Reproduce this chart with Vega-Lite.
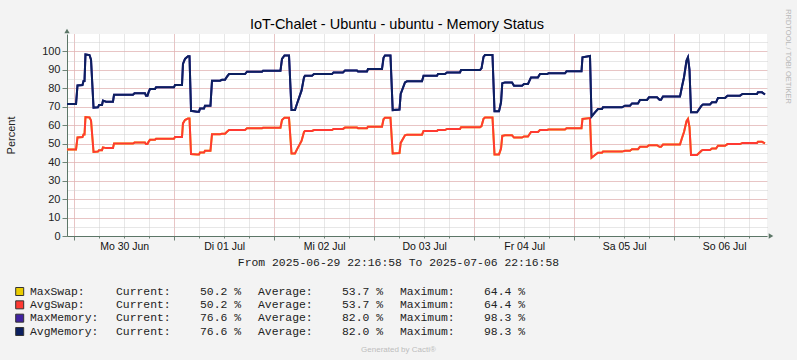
{
  "$schema": "https://vega.github.io/schema/vega-lite/v6.json",
  "width": 700,
  "height": 202,
  "autosize": "none",
  "padding": {"left": 67, "top": 34, "right": 30, "bottom": 124},
  "background": "#F3F3F3",
  "title": {"text": "IoT-Chalet - Ubuntu - ubuntu - Memory Status", "font": "Liberation Sans", "fontSize": 14.5, "fontWeight": "normal", "color": "#000000", "anchor": "middle", "frame": "group", "dx": -20, "dy": 32, "offset": 8},
  "config": {"view": {"fill": "#FFFFFF", "stroke": null}, "axis": {"labelFont": "Liberation Sans", "titleFont": "Liberation Sans", "titleFontWeight": "normal"}},
  "datasets": {
    "usage": [
        {"t": "2025-06-29T22:16:58", "Swap": 46.8, "Memory": 71.5},
        {"t": "2025-06-30T00:27", "Swap": 46.8, "Memory": 71.5},
        {"t": "2025-06-30T00:48", "Swap": 53.4, "Memory": 81.5},
        {"t": "2025-06-30T02:00", "Swap": 53.6, "Memory": 81.8},
        {"t": "2025-06-30T02:15", "Swap": 55.0, "Memory": 84.0},
        {"t": "2025-06-30T02:29", "Swap": 55.0, "Memory": 84.0},
        {"t": "2025-06-30T02:43", "Swap": 64.4, "Memory": 98.3},
        {"t": "2025-06-30T03:41", "Swap": 64.2, "Memory": 98.0},
        {"t": "2025-06-30T04:03", "Swap": 62.6, "Memory": 95.5},
        {"t": "2025-06-30T04:39", "Swap": 45.5, "Memory": 69.5},
        {"t": "2025-06-30T05:43", "Swap": 45.7, "Memory": 69.7},
        {"t": "2025-06-30T05:58", "Swap": 46.5, "Memory": 71.0},
        {"t": "2025-06-30T06:41", "Swap": 46.5, "Memory": 71.0},
        {"t": "2025-06-30T06:55", "Swap": 48.0, "Memory": 73.3},
        {"t": "2025-06-30T07:39", "Swap": 47.6, "Memory": 72.7},
        {"t": "2025-06-30T09:19", "Swap": 47.6, "Memory": 72.7},
        {"t": "2025-06-30T09:34", "Swap": 50.1, "Memory": 76.5},
        {"t": "2025-06-30T14:07", "Swap": 50.1, "Memory": 76.5},
        {"t": "2025-06-30T14:29", "Swap": 50.6, "Memory": 77.3},
        {"t": "2025-06-30T17:00", "Swap": 50.6, "Memory": 77.3},
        {"t": "2025-06-30T17:15", "Swap": 49.8, "Memory": 76.0},
        {"t": "2025-06-30T17:36", "Swap": 49.8, "Memory": 76.0},
        {"t": "2025-06-30T17:51", "Swap": 51.0, "Memory": 77.8},
        {"t": "2025-06-30T18:12", "Swap": 52.1, "Memory": 79.6},
        {"t": "2025-06-30T19:24", "Swap": 52.1, "Memory": 79.6},
        {"t": "2025-06-30T19:39", "Swap": 52.7, "Memory": 80.5},
        {"t": "2025-06-30T23:58", "Swap": 52.7, "Memory": 80.5},
        {"t": "2025-07-01T00:12", "Swap": 53.6, "Memory": 81.8},
        {"t": "2025-07-01T01:53", "Swap": 53.6, "Memory": 81.8},
        {"t": "2025-07-01T02:07", "Swap": 61.0, "Memory": 93.2},
        {"t": "2025-07-01T02:36", "Swap": 62.8, "Memory": 95.9},
        {"t": "2025-07-01T03:19", "Swap": 63.7, "Memory": 97.3},
        {"t": "2025-07-01T03:41", "Swap": 63.7, "Memory": 97.3},
        {"t": "2025-07-01T04:03", "Swap": 44.4, "Memory": 67.8},
        {"t": "2025-07-01T05:29", "Swap": 44.1, "Memory": 67.3},
        {"t": "2025-07-01T05:58", "Swap": 44.1, "Memory": 67.3},
        {"t": "2025-07-01T06:12", "Swap": 45.2, "Memory": 69.0},
        {"t": "2025-07-01T07:10", "Swap": 45.2, "Memory": 69.0},
        {"t": "2025-07-01T07:24", "Swap": 46.2, "Memory": 70.6},
        {"t": "2025-07-01T08:43", "Swap": 46.2, "Memory": 70.6},
        {"t": "2025-07-01T09:05", "Swap": 55.1, "Memory": 84.1},
        {"t": "2025-07-01T11:00", "Swap": 55.1, "Memory": 84.1},
        {"t": "2025-07-01T11:29", "Swap": 55.4, "Memory": 84.6},
        {"t": "2025-07-01T12:12", "Swap": 55.4, "Memory": 84.6},
        {"t": "2025-07-01T12:41", "Swap": 56.5, "Memory": 86.3},
        {"t": "2025-07-01T13:10", "Swap": 57.4, "Memory": 87.7},
        {"t": "2025-07-01T17:00", "Swap": 57.4, "Memory": 87.7},
        {"t": "2025-07-01T17:29", "Swap": 58.3, "Memory": 89.0},
        {"t": "2025-07-01T21:05", "Swap": 58.3, "Memory": 89.0},
        {"t": "2025-07-01T21:19", "Swap": 58.6, "Memory": 89.5},
        {"t": "2025-07-02T01:31", "Swap": 58.6, "Memory": 89.5},
        {"t": "2025-07-02T01:53", "Swap": 62.8, "Memory": 95.9},
        {"t": "2025-07-02T02:29", "Swap": 64.1, "Memory": 97.8},
        {"t": "2025-07-02T03:34", "Swap": 64.1, "Memory": 97.8},
        {"t": "2025-07-02T04:10", "Swap": 44.7, "Memory": 68.2},
        {"t": "2025-07-02T05:00", "Swap": 44.7, "Memory": 68.2},
        {"t": "2025-07-02T05:29", "Swap": 46.9, "Memory": 71.6},
        {"t": "2025-07-02T06:34", "Swap": 51.5, "Memory": 78.7},
        {"t": "2025-07-02T07:10", "Swap": 56.3, "Memory": 85.9},
        {"t": "2025-07-02T07:24", "Swap": 56.9, "Memory": 86.8},
        {"t": "2025-07-02T09:05", "Swap": 56.9, "Memory": 86.8},
        {"t": "2025-07-02T09:34", "Swap": 57.4, "Memory": 87.7},
        {"t": "2025-07-02T13:53", "Swap": 57.4, "Memory": 87.7},
        {"t": "2025-07-02T14:15", "Swap": 58.0, "Memory": 88.6},
        {"t": "2025-07-02T16:31", "Swap": 58.0, "Memory": 88.6},
        {"t": "2025-07-02T17:00", "Swap": 58.7, "Memory": 89.6},
        {"t": "2025-07-02T19:53", "Swap": 58.7, "Memory": 89.6},
        {"t": "2025-07-02T20:07", "Swap": 58.4, "Memory": 89.1},
        {"t": "2025-07-02T22:17", "Swap": 58.4, "Memory": 89.1},
        {"t": "2025-07-02T22:31", "Swap": 59.2, "Memory": 90.4},
        {"t": "2025-07-03T01:53", "Swap": 59.2, "Memory": 90.4},
        {"t": "2025-07-03T02:15", "Swap": 63.2, "Memory": 96.5},
        {"t": "2025-07-03T02:36", "Swap": 64.1, "Memory": 97.8},
        {"t": "2025-07-03T03:55", "Swap": 64.1, "Memory": 97.8},
        {"t": "2025-07-03T04:27", "Swap": 44.7, "Memory": 68.2},
        {"t": "2025-07-03T06:05", "Swap": 44.9, "Memory": 68.5},
        {"t": "2025-07-03T06:22", "Swap": 50.4, "Memory": 76.9},
        {"t": "2025-07-03T07:24", "Swap": 54.5, "Memory": 83.2},
        {"t": "2025-07-03T07:53", "Swap": 54.9, "Memory": 83.8},
        {"t": "2025-07-03T11:29", "Swap": 54.9, "Memory": 83.8},
        {"t": "2025-07-03T11:51", "Swap": 56.9, "Memory": 86.8},
        {"t": "2025-07-03T15:05", "Swap": 56.9, "Memory": 86.8},
        {"t": "2025-07-03T15:19", "Swap": 57.4, "Memory": 87.7},
        {"t": "2025-07-03T17:00", "Swap": 57.4, "Memory": 87.7},
        {"t": "2025-07-03T17:29", "Swap": 58.0, "Memory": 88.6},
        {"t": "2025-07-03T20:36", "Swap": 58.0, "Memory": 88.6},
        {"t": "2025-07-03T20:51", "Swap": 58.9, "Memory": 89.9},
        {"t": "2025-07-04T01:24", "Swap": 58.9, "Memory": 89.9},
        {"t": "2025-07-04T01:46", "Swap": 59.5, "Memory": 90.8},
        {"t": "2025-07-04T02:15", "Swap": 63.5, "Memory": 97.0},
        {"t": "2025-07-04T02:36", "Swap": 64.2, "Memory": 98.0},
        {"t": "2025-07-04T04:24", "Swap": 64.2, "Memory": 98.0},
        {"t": "2025-07-04T04:53", "Swap": 44.2, "Memory": 67.5},
        {"t": "2025-07-04T05:58", "Swap": 44.2, "Memory": 67.5},
        {"t": "2025-07-04T06:27", "Swap": 47.4, "Memory": 72.4},
        {"t": "2025-07-04T06:45", "Swap": 54.2, "Memory": 82.7},
        {"t": "2025-07-04T07:24", "Swap": 54.5, "Memory": 83.2},
        {"t": "2025-07-04T09:05", "Swap": 54.5, "Memory": 83.2},
        {"t": "2025-07-04T09:34", "Swap": 53.3, "Memory": 81.4},
        {"t": "2025-07-04T11:29", "Swap": 53.3, "Memory": 81.4},
        {"t": "2025-07-04T11:58", "Swap": 53.9, "Memory": 82.3},
        {"t": "2025-07-04T12:55", "Swap": 53.9, "Memory": 82.3},
        {"t": "2025-07-04T13:39", "Swap": 56.3, "Memory": 85.9},
        {"t": "2025-07-04T15:19", "Swap": 56.3, "Memory": 85.9},
        {"t": "2025-07-04T15:48", "Swap": 57.4, "Memory": 87.7},
        {"t": "2025-07-04T17:29", "Swap": 57.4, "Memory": 87.7},
        {"t": "2025-07-04T17:51", "Swap": 57.7, "Memory": 88.1},
        {"t": "2025-07-04T21:48", "Swap": 57.7, "Memory": 88.1},
        {"t": "2025-07-04T22:10", "Swap": 58.4, "Memory": 89.2},
        {"t": "2025-07-05T01:46", "Swap": 58.4, "Memory": 89.2},
        {"t": "2025-07-05T02:00", "Swap": 63.4, "Memory": 96.8},
        {"t": "2025-07-05T03:48", "Swap": 63.9, "Memory": 97.5},
        {"t": "2025-07-05T04:10", "Swap": 42.4, "Memory": 64.7},
        {"t": "2025-07-05T05:00", "Swap": 43.9, "Memory": 67.0},
        {"t": "2025-07-05T05:43", "Swap": 45.1, "Memory": 68.8},
        {"t": "2025-07-05T06:41", "Swap": 45.1, "Memory": 68.8},
        {"t": "2025-07-05T06:55", "Swap": 45.7, "Memory": 69.7},
        {"t": "2025-07-05T11:29", "Swap": 45.7, "Memory": 69.7},
        {"t": "2025-07-05T12:12", "Swap": 46.2, "Memory": 70.6},
        {"t": "2025-07-05T13:24", "Swap": 46.2, "Memory": 70.6},
        {"t": "2025-07-05T13:53", "Swap": 47.0, "Memory": 71.8},
        {"t": "2025-07-05T15:19", "Swap": 47.0, "Memory": 71.8},
        {"t": "2025-07-05T15:48", "Swap": 48.3, "Memory": 73.7},
        {"t": "2025-07-05T17:29", "Swap": 48.3, "Memory": 73.7},
        {"t": "2025-07-05T17:58", "Swap": 49.2, "Memory": 75.1},
        {"t": "2025-07-05T19:53", "Swap": 49.2, "Memory": 75.1},
        {"t": "2025-07-05T20:29", "Swap": 48.3, "Memory": 73.8},
        {"t": "2025-07-05T20:51", "Swap": 48.3, "Memory": 73.8},
        {"t": "2025-07-05T21:19", "Swap": 49.5, "Memory": 75.5},
        {"t": "2025-07-06T01:24", "Swap": 49.5, "Memory": 75.5},
        {"t": "2025-07-06T01:53", "Swap": 53.1, "Memory": 81.0},
        {"t": "2025-07-06T02:22", "Swap": 56.3, "Memory": 86.0},
        {"t": "2025-07-06T02:58", "Swap": 62.2, "Memory": 95.0},
        {"t": "2025-07-06T03:19", "Swap": 63.4, "Memory": 96.8},
        {"t": "2025-07-06T03:41", "Swap": 59.0, "Memory": 90.0},
        {"t": "2025-07-06T04:03", "Swap": 43.9, "Memory": 67.0},
        {"t": "2025-07-06T05:29", "Swap": 43.9, "Memory": 67.0},
        {"t": "2025-07-06T06:34", "Swap": 46.2, "Memory": 70.6},
        {"t": "2025-07-06T06:55", "Swap": 46.6, "Memory": 71.2},
        {"t": "2025-07-06T08:36", "Swap": 46.6, "Memory": 71.2},
        {"t": "2025-07-06T09:05", "Swap": 47.4, "Memory": 72.4},
        {"t": "2025-07-06T10:03", "Swap": 47.4, "Memory": 72.4},
        {"t": "2025-07-06T10:31", "Swap": 48.9, "Memory": 74.7},
        {"t": "2025-07-06T12:12", "Swap": 48.9, "Memory": 74.7},
        {"t": "2025-07-06T12:48", "Swap": 49.8, "Memory": 76.0},
        {"t": "2025-07-06T15:48", "Swap": 49.8, "Memory": 76.0},
        {"t": "2025-07-06T16:24", "Swap": 50.4, "Memory": 76.9},
        {"t": "2025-07-06T19:53", "Swap": 50.4, "Memory": 76.9},
        {"t": "2025-07-06T20:07", "Swap": 51.0, "Memory": 77.8},
        {"t": "2025-07-06T21:05", "Swap": 51.0, "Memory": 77.8},
        {"t": "2025-07-06T21:48", "Swap": 50.2, "Memory": 76.6}
    ],
    "legendRows": [
        {"series": "MaxSwap:", "stat": "Current:", "value": "50.2 %"},
        {"series": "MaxSwap:", "stat": "Average:", "value": "53.7 %"},
        {"series": "MaxSwap:", "stat": "Maximum:", "value": "64.4 %"},
        {"series": "AvgSwap:", "stat": "Current:", "value": "50.2 %"},
        {"series": "AvgSwap:", "stat": "Average:", "value": "53.7 %"},
        {"series": "AvgSwap:", "stat": "Maximum:", "value": "64.4 %"},
        {"series": "MaxMemory:", "stat": "Current:", "value": "76.6 %"},
        {"series": "MaxMemory:", "stat": "Average:", "value": "82.0 %"},
        {"series": "MaxMemory:", "stat": "Maximum:", "value": "98.3 %"},
        {"series": "AvgMemory:", "stat": "Current:", "value": "76.6 %"},
        {"series": "AvgMemory:", "stat": "Average:", "value": "82.0 %"},
        {"series": "AvgMemory:", "stat": "Maximum:", "value": "98.3 %"}
    ]
  },
  "layer": [
    {
      "data": {"name": "usage"},
      "mark": {"type": "line", "color": "#EACC00", "strokeWidth": 2},
      "encoding": {
        "x": {"field": "t", "type": "temporal",
          "scale": {"domain": [{"year": 2025, "month": 6, "date": 29, "hours": 22, "minutes": 16, "seconds": 58}, {"year": 2025, "month": 7, "date": 6, "hours": 22, "minutes": 16, "seconds": 58}]},
          "axis": {"orient": "bottom", "grid": true, "gridColor": "#CFCFCF", "gridDash": [1, 1], "gridWidth": 1, "tickCount": 28, "labels": false, "domain": false, "ticks": true, "tickSize": 2, "tickColor": "#6F8577", "title": null}},
        "y": {"field": "Swap", "type": "quantitative",
          "scale": {"domain": [0, 109.4], "nice": false},
          "axis": {"orient": "right", "values": [0, 5, 10, 15, 20, 25, 30, 35, 40, 45, 50, 55, 60, 65, 70, 75, 80, 85, 90, 95, 100, 105], "grid": true, "gridColor": "#CFCFCF", "gridDash": [1, 1], "labels": false, "ticks": false, "domain": false,
            "title": "RRDTOOL / TOBI OETIKER", "titleAngle": 90, "titleX": 20.4, "titleY": 22, "titleColor": "#B8B8B8", "titleFontSize": 7.5, "titleAlign": "center", "titleBaseline": "middle"}}
      }
    },
    {
      "data": {"name": "usage"},
      "mark": {"type": "line", "color": "#4123A1", "strokeWidth": 2},
      "encoding": {
        "x": {"field": "t", "type": "temporal",
          "scale": {"domain": [{"year": 2025, "month": 6, "date": 29, "hours": 22, "minutes": 16, "seconds": 58}, {"year": 2025, "month": 7, "date": 6, "hours": 22, "minutes": 16, "seconds": 58}]},
          "axis": {"orient": "bottom", "grid": true, "gridColor": "#E9A3A3", "gridDash": [1, 1], "gridWidth": 1, "tickCount": 7, "labels": false, "domain": false, "ticks": true, "tickSize": 4, "tickColor": "#6F8577",
            "title": "Generated by Cacti®", "titleX": 331, "titleY": 113, "titleColor": "#BDBDBD", "titleFontSize": 8, "titleAlign": "center", "titleBaseline": "middle"}},
        "y": {"field": "Memory", "type": "quantitative",
          "scale": {"domain": [0, 109.4], "nice": false},
          "axis": {"orient": "left", "values": [0, 10, 20, 30, 40, 50, 60, 70, 80, 90, 100], "grid": true, "gridColor": "#E9A3A3", "gridDash": [1, 1], "labels": true, "labelFontSize": 11, "labelColor": "#222222", "labelPadding": 2, "ticks": true, "tickSize": 5, "tickColor": "#6F8577", "domain": true, "domainColor": "#5C7667", "domainWidth": 1,
            "title": "Percent", "titleX": -56, "titleY": 101, "titleAngle": -90, "titleFontSize": 11, "titleColor": "#222222", "titleAlign": "center", "titleBaseline": "middle"}}
      }
    },
    {
      "data": {"name": "usage"},
      "mark": {"type": "line", "color": "#FF3932", "strokeWidth": 2},
      "encoding": {
        "x": {"field": "t", "type": "temporal",
          "scale": {"domain": [{"year": 2025, "month": 6, "date": 29, "hours": 22, "minutes": 16, "seconds": 58}, {"year": 2025, "month": 7, "date": 6, "hours": 22, "minutes": 16, "seconds": 58}]},
          "axis": {"orient": "bottom", "grid": false, "values": [
              {"year": 2025, "month": 6, "date": 30, "hours": 12},
              {"year": 2025, "month": 7, "date": 1, "hours": 12},
              {"year": 2025, "month": 7, "date": 2, "hours": 12},
              {"year": 2025, "month": 7, "date": 3, "hours": 12},
              {"year": 2025, "month": 7, "date": 4, "hours": 12},
              {"year": 2025, "month": 7, "date": 5, "hours": 12},
              {"year": 2025, "month": 7, "date": 6, "hours": 12}],
            "labelExpr": "(day(datum.value) == 0 ? 'So' : day(datum.value) == 1 ? 'Mo' : day(datum.value) == 2 ? 'Di' : day(datum.value) == 3 ? 'Mi' : day(datum.value) == 4 ? 'Do' : day(datum.value) == 5 ? 'Fr' : 'Sa') + timeFormat(datum.value, ' %d %b')",
            "labelFontSize": 10.5, "labelColor": "#111111", "labelPadding": 5, "labelFlush": false, "labelOverlap": false,
            "ticks": false, "domain": true, "domainColor": "#5C7667", "domainWidth": 1,
            "title": "From 2025-06-29 22:16:58 To 2025-07-06 22:16:58", "titleFont": "Liberation Mono", "titleFontSize": 11.4, "titleColor": "#222222", "titleX": 331, "titleY": 26.5, "titleAlign": "center", "titleBaseline": "middle"}},
        "y": {"field": "Swap", "type": "quantitative", "scale": {"domain": [0, 109.4], "nice": false}, "axis": null}
      }
    },
    {
      "data": {"name": "usage"},
      "mark": {"type": "line", "color": "#0C1F5F", "strokeWidth": 2},
      "encoding": {
        "x": {"field": "t", "type": "temporal",
          "scale": {"domain": [{"year": 2025, "month": 6, "date": 29, "hours": 22, "minutes": 16, "seconds": 58}, {"year": 2025, "month": 7, "date": 6, "hours": 22, "minutes": 16, "seconds": 58}]},
          "axis": null},
        "y": {"field": "Memory", "type": "quantitative", "scale": {"domain": [0, 109.4], "nice": false}, "axis": null}
      }
    },
    {
      "data": {"values": [{"axis": "y"}]},
      "mark": {"type": "point", "shape": "triangle-up", "filled": true, "size": 28, "opacity": 1, "color": "#5C7667", "yOffset": -3},
      "encoding": {
        "x": {"datum": {"year": 2025, "month": 6, "date": 29, "hours": 22, "minutes": 16, "seconds": 58}, "type": "temporal",
          "scale": {"domain": [{"year": 2025, "month": 6, "date": 29, "hours": 22, "minutes": 16, "seconds": 58}, {"year": 2025, "month": 7, "date": 6, "hours": 22, "minutes": 16, "seconds": 58}]}, "axis": null},
        "y": {"datum": 109.4, "type": "quantitative", "scale": {"domain": [0, 109.4], "nice": false}, "axis": null}
      }
    },
    {
      "data": {"values": [{"axis": "x"}]},
      "mark": {"type": "point", "shape": "triangle-right", "filled": true, "size": 28, "opacity": 1, "color": "#5C7667", "xOffset": 4},
      "encoding": {
        "x": {"datum": {"year": 2025, "month": 7, "date": 6, "hours": 22, "minutes": 16, "seconds": 58}, "type": "temporal",
          "scale": {"domain": [{"year": 2025, "month": 6, "date": 29, "hours": 22, "minutes": 16, "seconds": 58}, {"year": 2025, "month": 7, "date": 6, "hours": 22, "minutes": 16, "seconds": 58}]}, "axis": null},
        "y": {"datum": 0, "type": "quantitative", "scale": {"domain": [0, 109.4], "nice": false}, "axis": null}
      }
    },
    {
      "data": {"name": "legendRows"},
      "transform": [{"filter": "datum.stat === 'Current:'"}],
      "mark": {"type": "square", "size": 64, "filled": true, "opacity": 1, "stroke": "#333333", "strokeWidth": 1, "xOffset": -96.3},
      "encoding": {
        "x": {"field": "stat", "type": "nominal", "scale": {"type": "point", "domain": ["Current:", "Average:", "Maximum:"], "range": [49, 333], "padding": 0}, "axis": null},
        "y": {"field": "series", "type": "nominal", "scale": {"type": "point", "domain": ["MaxSwap:", "AvgSwap:", "MaxMemory:", "AvgMemory:"], "range": [257.5, 297.5], "padding": 0}, "axis": null},
        "color": {"field": "series", "type": "nominal", "scale": {"domain": ["MaxSwap:", "AvgSwap:", "MaxMemory:", "AvgMemory:"], "range": ["#EACC00", "#FF3932", "#4123A1", "#0C1F5F"]}, "legend": null}
      }
    },
    {
      "data": {"name": "legendRows"},
      "transform": [{"filter": "datum.stat === 'Current:'"}],
      "mark": {"type": "text", "align": "left", "baseline": "middle", "dx": -86, "font": "Liberation Mono", "fontSize": 11.4, "color": "#222222"},
      "encoding": {
        "x": {"field": "stat", "type": "nominal", "scale": {"type": "point", "domain": ["Current:", "Average:", "Maximum:"], "range": [49, 333], "padding": 0}, "axis": null},
        "y": {"field": "series", "type": "nominal", "scale": {"type": "point", "domain": ["MaxSwap:", "AvgSwap:", "MaxMemory:", "AvgMemory:"], "range": [257.5, 297.5], "padding": 0}, "axis": null},
        "text": {"field": "series"}
      }
    },
    {
      "data": {"name": "legendRows"},
      "mark": {"type": "text", "align": "left", "baseline": "middle", "font": "Liberation Mono", "fontSize": 11.4, "color": "#222222"},
      "encoding": {
        "x": {"field": "stat", "type": "nominal", "scale": {"type": "point", "domain": ["Current:", "Average:", "Maximum:"], "range": [49, 333], "padding": 0}, "axis": null},
        "y": {"field": "series", "type": "nominal", "scale": {"type": "point", "domain": ["MaxSwap:", "AvgSwap:", "MaxMemory:", "AvgMemory:"], "range": [257.5, 297.5], "padding": 0}, "axis": null},
        "text": {"field": "stat"}
      }
    },
    {
      "data": {"name": "legendRows"},
      "mark": {"type": "text", "align": "left", "baseline": "middle", "dx": 84, "font": "Liberation Mono", "fontSize": 11.4, "color": "#222222"},
      "encoding": {
        "x": {"field": "stat", "type": "nominal", "scale": {"type": "point", "domain": ["Current:", "Average:", "Maximum:"], "range": [49, 333], "padding": 0}, "axis": null},
        "y": {"field": "series", "type": "nominal", "scale": {"type": "point", "domain": ["MaxSwap:", "AvgSwap:", "MaxMemory:", "AvgMemory:"], "range": [257.5, 297.5], "padding": 0}, "axis": null},
        "text": {"field": "value"}
      }
    }
  ],
  "resolve": {"scale": {"x": "independent", "y": "independent", "color": "independent"}}
}
